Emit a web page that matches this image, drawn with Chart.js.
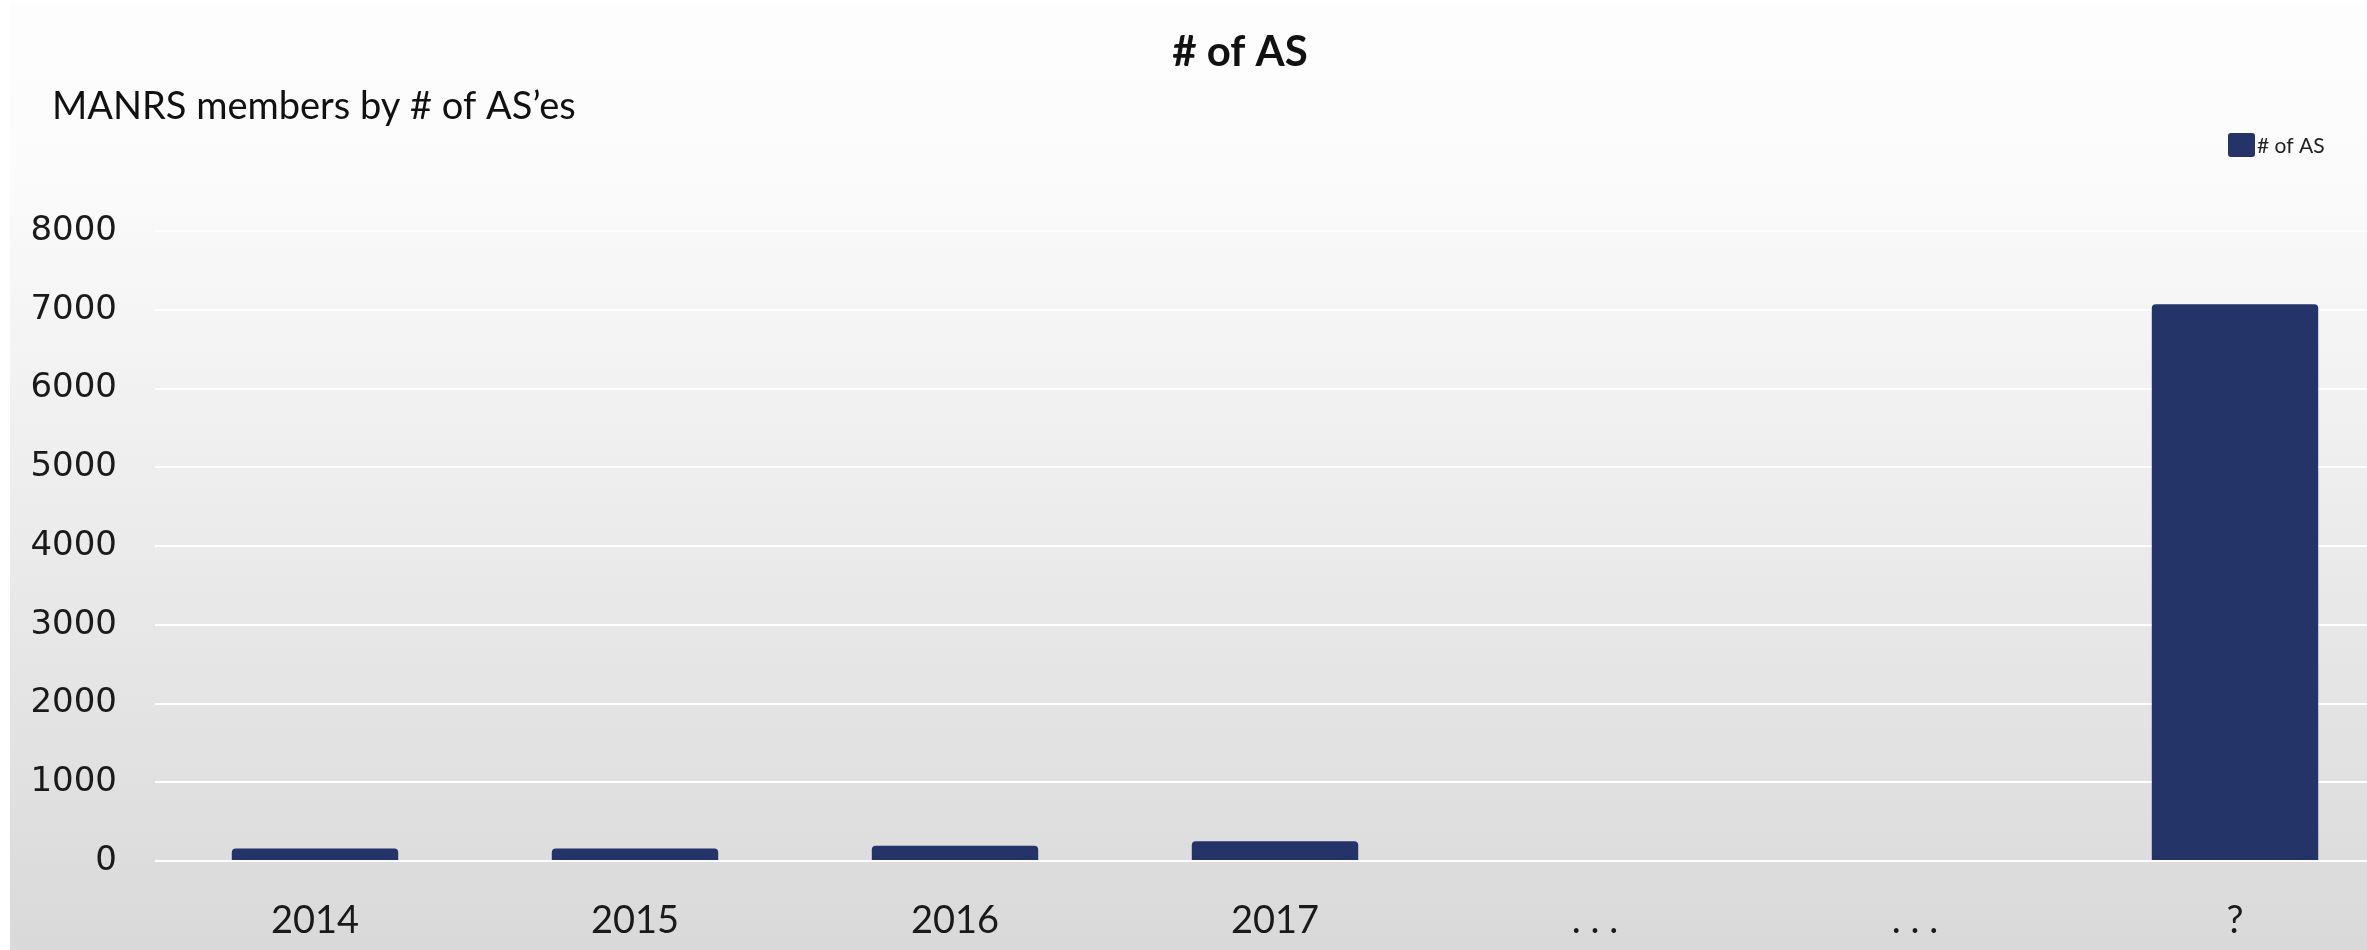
<!DOCTYPE html>
<html>
<head>
<meta charset="utf-8">
<script src="https://cdn.jsdelivr.net/npm/chart.js@4"></script>
<style>
  html, body { margin: 0; padding: 0; background: #ffffff; overflow: hidden; }
  /* the plot runs past the right edge of the picture, so the canvas is wider than the view */
  #wrap { width: 2367px; height: 950px; overflow: hidden; }
</style>
</head>
<body>
<div id="wrap"><canvas id="chart" width="2395" height="950"></canvas></div>
<script>
// chart values
const categories = ["2014", "2015", "2016", "2017", ". . .", ". . .", "?"];
const asCounts = [160, 160, 195, 250, null, null, 7070];
const yTicks = [0, 1000, 2000, 3000, 4000, 5000, 6000, 7000, 8000];
const seriesName = "# of AS";
const chartTitle = "# of AS";
const chartSubtitle = "MANRS members by # of AS\u2019es";

const barColor = "#243468";
const viewWidth = 2367;

// grey gradient panel behind the plot
const panelBackground = {
    id: "panelBackground",
    beforeDraw(chart) {
        const { ctx, width, height } = chart;
        ctx.save();
        ctx.fillStyle = "#ffffff";
        ctx.fillRect(0, 0, width, height);
        const grad = ctx.createLinearGradient(0, 0, 0, height);
        grad.addColorStop(0, "#fdfdfd");
        grad.addColorStop(0.18, "#fbfbfb");
        grad.addColorStop(1, "#d9d9d9");
        ctx.fillStyle = grad;
        ctx.fillRect(10, 4, width - 10, height - 4);
        ctx.restore();
    }
};

// title, subtitle and the small legend in the top right corner
const headerText = {
    id: "headerText",
    afterDraw(chart) {
        const { ctx } = chart;
        const ds = chart.data.datasets[0];
        ctx.save();
        ctx.textBaseline = "middle";

        ctx.fillStyle = "#111111";
        ctx.font = "bold 42px Lato";
        ctx.textAlign = "center";
        ctx.fillText(chartTitle, 1240, 52);

        ctx.font = "38px Lato";
        ctx.textAlign = "left";
        ctx.fillText(chartSubtitle, 52, 107);

        const x = viewWidth - 139;
        const y = 133;
        ctx.fillStyle = ds.backgroundColor;
        ctx.beginPath();
        ctx.roundRect(x, y, 27, 24, 3);
        ctx.fill();
        ctx.fillStyle = "#222222";
        ctx.font = "21px Lato";
        ctx.fillText(ds.label, x + 29, y + 13);
        ctx.restore();
    }
};

const ctx = document.getElementById("chart");

new Chart(ctx, {
    type: "bar",
    data: {
        labels: categories,
        datasets: [{
            label: seriesName,
            data: asCounts,
            backgroundColor: barColor,
            borderRadius: { topLeft: 4, topRight: 4 },
            borderSkipped: "start",
            barPercentage: 0.52,
            categoryPercentage: 1.0,
        }],
    },
    options: {
        responsive: false,
        animation: false,
        layout: {
            padding: { left: 0, right: 0, top: 231, bottom: 0 },
        },
        plugins: {
            legend: { display: false },
            tooltip: { enabled: false },
        },
        scales: {
            x: {
                grid: { display: false },
                border: { display: false },
                ticks: {
                    color: "#1a1a1a",
                    font: { family: "Lato", size: 38 },
                    padding: 29,
                    maxRotation: 0,
                    autoSkip: false,
                },
                afterFit(scale) { scale.height = 89; },
            },
            y: {
                min: 0,
                max: 8000,
                grid: { color: "#ffffff", lineWidth: 2, drawTicks: false },
                border: { display: false },
                afterBuildTicks(scale) {
                    scale.ticks = yTicks.map(v => ({ value: v }));
                },
                ticks: {
                    color: "#1a1a1a",
                    font: { family: "DejaVu Sans", size: 34 },
                    padding: 38,
                    callback: (value) => String(value),
                },
                afterFit(scale) { scale.width = 155; },
            },
        },
    },
    plugins: [panelBackground, headerText],
});
</script>
</body>
</html>
